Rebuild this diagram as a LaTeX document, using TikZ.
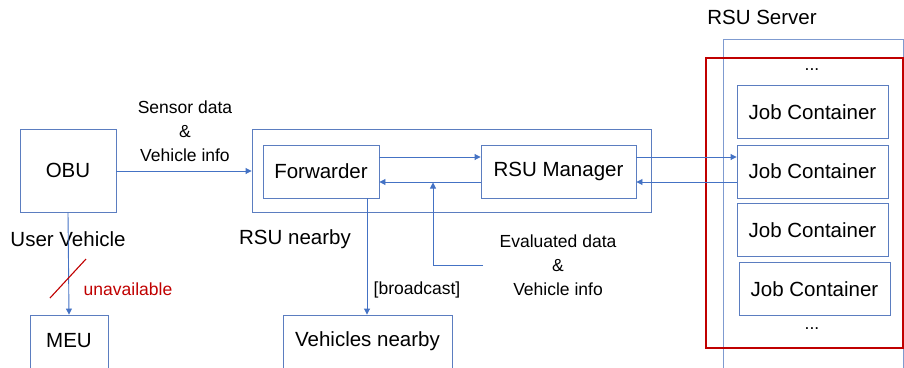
\documentclass[tikz,border=0pt]{standalone}
\usepackage{fontspec}
\setmainfont{Liberation Sans}
\usetikzlibrary{arrows.meta}
\definecolor{lblue}{HTML}{4472C4}
\definecolor{bblue}{HTML}{5B7DC0}
\definecolor{sblue}{HTML}{7F9BD0}
\definecolor{dred}{HTML}{C00000}
\tikzset{
  box/.style={draw=bblue, line width=0.9pt, inner sep=0pt, fill=none},
  big/.style={font=\fontsize{20.5}{22}\selectfont, inner sep=0pt},
  small/.style={font=\fontsize{17.5}{24}\selectfont, inner sep=0pt, align=center},
  conn/.style={draw=lblue, line width=0.9pt, -{Triangle[length=6pt,width=6pt]}},
}
\begin{document}
\begin{tikzpicture}[x=1pt,y=-1pt]
\useasboundingbox (0,0) rectangle (904,367);
\clip (0,0) rectangle (904,367);
% OBU
\node[box, minimum width=96pt, minimum height=83pt, big] (obu) at (68,170.5) {OBU};
\node[big] (uv) at (68,239) {User Vehicle};
% MEU
\node[box, minimum width=78pt, minimum height=80pt] (meu) at (69,355) {};
\node[big] (meut) at (69,341) {MEU};
% RSU nearby
\node[box, minimum width=399pt, minimum height=83pt] (rsun) at (451.5,170.5) {};
\node[big] (rsunt) at (295,239) {RSU nearby};
\node[box, minimum width=116pt, minimum height=53pt, big] (fw) at (321,171.5) {Forwarder};
\node[box, minimum width=155pt, minimum height=53pt, big] (mgr) at (558.5,171.5) {RSU Manager};
% Vehicles nearby
\node[box, minimum width=169pt, minimum height=80pt] (vn) at (367.5,355) {};
\node[big] (vnt) at (367.5,341) {Vehicles nearby};
% RSU server
\node[big] (srvt) at (762,17) {RSU Server};
\node[draw=sblue, line width=0.9pt, minimum width=180pt, minimum height=360pt, inner sep=0pt] (srv) at (813,219) {};
\node[draw=dred, line width=2.2pt, minimum width=197pt, minimum height=290pt, inner sep=0pt] (red) at (804.5,203) {};
\node[small] (dots1) at (812,70) {...};
\node[box, minimum width=151pt, minimum height=53pt, big] (jc1) at (812.5,112) {Job Container};
\node[box, minimum width=151pt, minimum height=53pt, big] (jc2) at (812.5,171.5) {Job Container};
\node[box, minimum width=151pt, minimum height=53pt, big] (jc3) at (812.5,230) {Job Container};
\node[box, minimum width=151pt, minimum height=53pt, big] (jc4) at (814.5,289) {Job Container};
\node[small] (dots2) at (812,329) {...};
% labels
\node[small] (sens) at (185,131) {Sensor data\\\&\\Vehicle info};
\node[small] (eval) at (558,265) {Evaluated data\\\&\\Vehicle info};
\node[small] (bc) at (417,290) {[broadcast]};
\node[small, text=dred] (un) at (128,289) {unavailable};
% connectors
\draw[conn] (obu.east |- 0,171) -- (rsun.west |- 0,171);
\draw[conn] (obu.south) -- (meu.north);
\draw[dred, line width=1.1pt] (50,298) -- (86,259);
\draw[conn] (fw.east |- 0,157) -- (mgr.west |- 0,157);
\draw[conn] (mgr.west |- 0,182) -- (fw.east |- 0,182);
\coordinate (evs) at (483,265);
\coordinate (evb) at (433,265);
\coordinate (evt) at (433,182.5);
\draw[conn] (evs) -- (evb) -- (evt);
\draw[conn] (fw.south -| 367,0) -- (vn.north -| 367,0);
\draw[conn] (mgr.east |- 0,157) -- (jc2.west |- 0,157);
\draw[conn] (jc2.west |- 0,182) -- (mgr.east |- 0,182);
\end{tikzpicture}
\end{document}
